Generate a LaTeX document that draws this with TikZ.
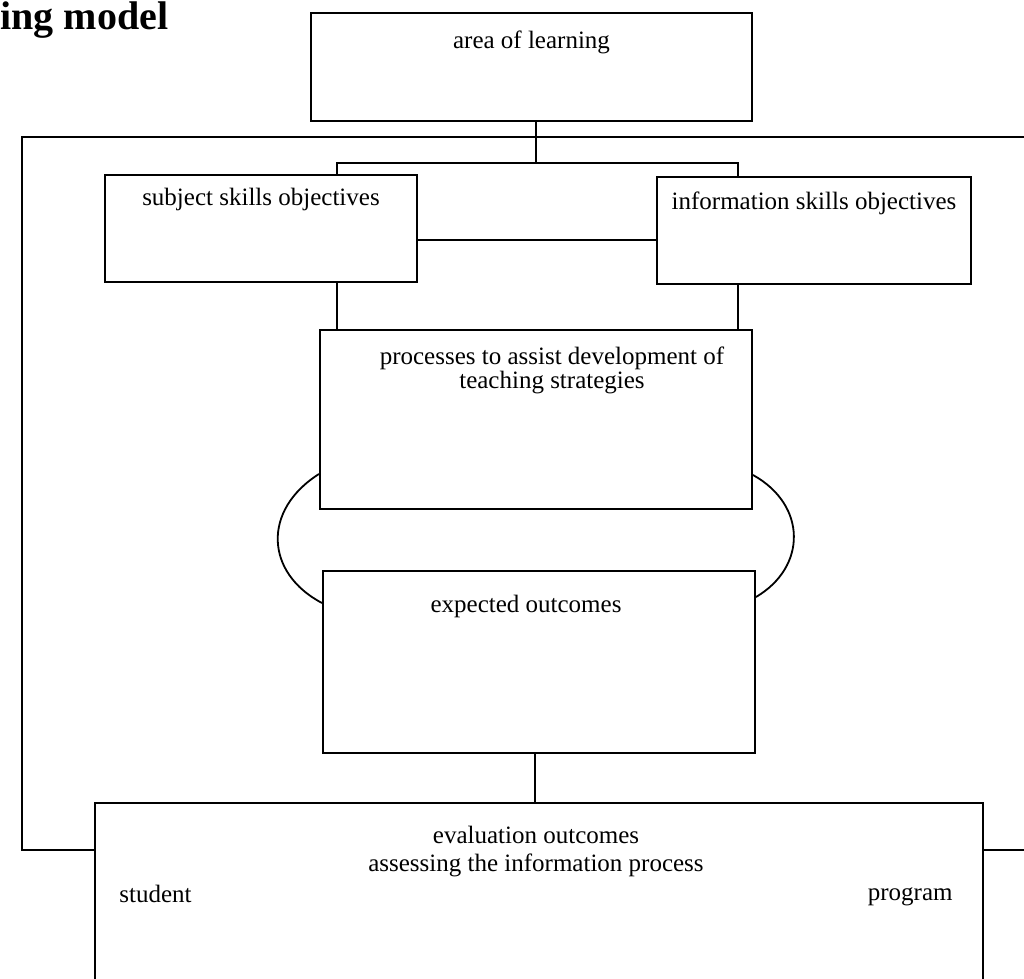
\documentclass[tikz,border=0pt]{standalone}
\usepackage{fontspec}
\setmainfont{Liberation Serif}
\usetikzlibrary{positioning}
\tikzset{
  learnbox/.style={
    draw=black,
    line width=1pt,
    inner sep=0pt
  },
  boxsize/.style 2 args={
    minimum width=#1*0.5pt,
    minimum height=#2*0.5pt
  },
  boxtext/.style={
    align=center,
    inner sep=0pt,
    font=\fontsize{12.5}{13}\selectfont
  },
  titletext/.style={
    inner sep=0pt,
    font=\fontsize{20}{24}\selectfont\bfseries
  },
  linkline/.style={
    line width=0.6pt
  },
  looparc/.style={
    line width=0.9pt
  },
  frameline/.style={
    line width=0.9pt
  }
}

\begin{document}
\begin{tikzpicture}[x=0.5pt, y=-0.5pt]
  \path[use as bounding box, clip] (0,0) rectangle (1024,979);
  \node[titletext, anchor=base west] (title) at (0,30) {ing model};

  % boxes
  \node[learnbox, boxsize={441}{108}] (area) at (531.5,67) {};
  \node[learnbox, boxsize={312}{107}] (subject) at (261,228.5) {};
  \node[learnbox, boxsize={314}{107}] (info) at (814,230.5) {};
  \node[learnbox, boxsize={432}{179}] (process) at (536,419.5) {};
  \node[learnbox, boxsize={432}{182}] (expected) at (539,662) {};
  \node[learnbox, boxsize={888}{200}] (eval) at (539,903) {};

  % box texts
  \node[boxtext, below=9pt of area.north] (areatext) {area of learning};
  \node[boxtext, below=7pt of subject.north] (subjecttext) {subject skills objectives};
  \node[boxtext, below=7.5pt of info.north] (infotext) {information skills objectives};
  \node[boxtext, font=\fontsize{12.5}{12}\selectfont, below=8.5pt of process.north, xshift=8pt] (processtext)
    {processes to assist development of\\teaching strategies};
  \node[boxtext, below=12.5pt of expected.north, xshift=-6.5pt] (expectedtext) {expected outcomes};
  \node[boxtext, font=\fontsize{12.5}{14}\selectfont, below=12pt of eval.north, xshift=-1.5pt] (evaltext)
    {evaluation outcomes\\assessing the information process};
  \node[boxtext, anchor=west] (student) at (119,894) {student};
  \node[boxtext, anchor=east] (program) at (953,897) {program};

  % connectors
  \coordinate (split) at (536,163);
  \draw[linkline] (area.south -| split) -- (split);
  \draw[linkline] (subject.north -| 337,0) |- (split) -| (info.north -| 738,0);
  \draw[linkline] (subject.east |- 0,240) -- (info.west |- 0,240);
  \draw[linkline] (subject.south -| 337,0) -- (process.north -| 337,0);
  \draw[linkline] (info.south -| 738,0) -- (process.north -| 738,0);
  \draw[looparc] (process.west |- 0,474) .. controls (262,510) and (265,573) .. (expected.west |- 0,603);
  \draw[looparc] (process.east |- 0,475) .. controls (807,505) and (807,567) .. (expected.east |- 0,597);
  \draw[linkline] (expected.south -| 535,0) -- (eval.north -| 535,0);

  % outer frame
  \draw[frameline] (eval.west |- 0,850) -| (22,137) -- (1030,137);
  \draw[frameline] (eval.east |- 0,850) -- (1030,850);
\end{tikzpicture}
\end{document}
